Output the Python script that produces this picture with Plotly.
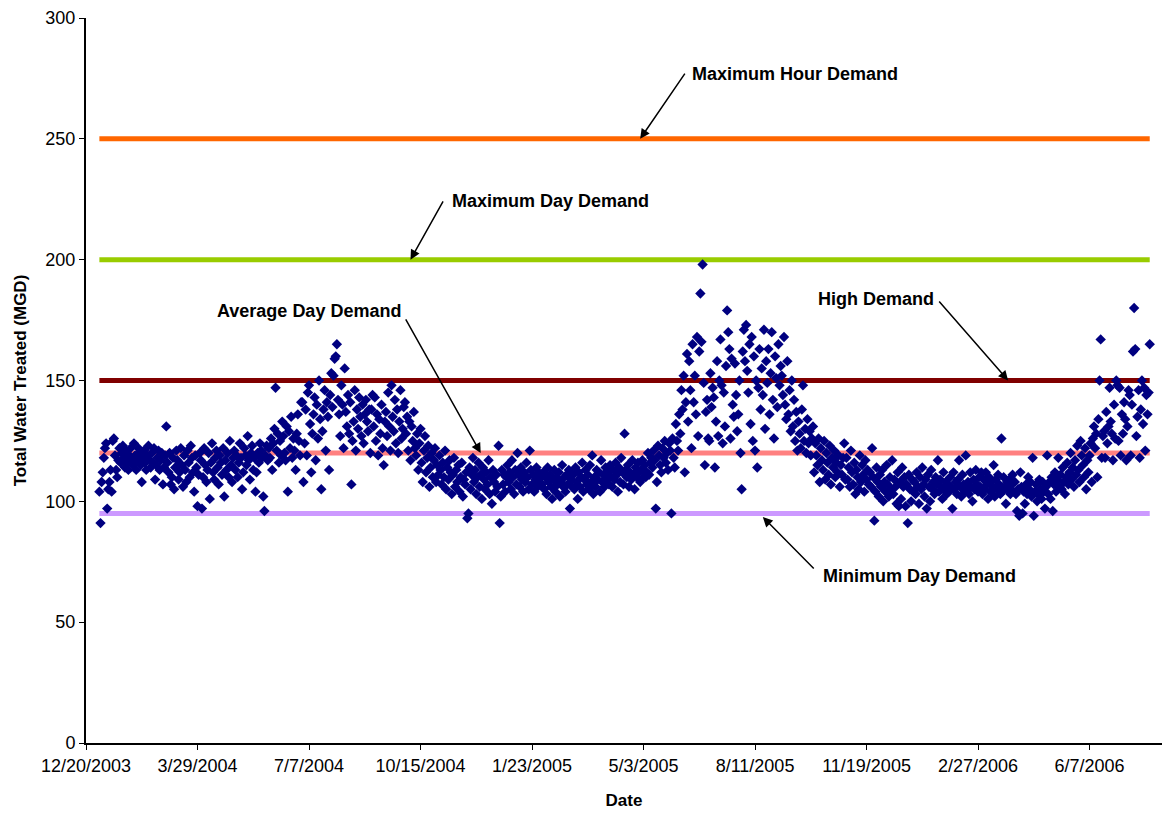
import pandas as pd
import plotly.graph_objects as go

# Daily total water treated (MGD), one inner list per calendar month
treated_2004 = [
    [104, 91, 108, 112, 118, 122, 124, 97, 105, 108, 113, 104, 125, 126, 119, 113, 110, 117, 122, 116,
     120, 123, 118, 114, 121, 116, 113, 119, 122, 117, 115],
    [124, 119, 113, 117, 122, 120, 115, 108, 118, 121, 116, 113, 119, 123, 117, 114, 120, 116, 122, 109,
     115, 118, 121, 113, 117, 120, 107, 114, 119],
    [131, 116, 112, 120, 107, 110, 118, 105, 114, 121, 117, 109, 112, 122, 115, 106, 119, 113, 108, 121,
     116, 110, 123, 118, 112, 104, 119, 114, 98, 111, 120],
    [117, 97, 110, 122, 115, 108, 113, 120, 101, 116, 124, 112, 109, 118, 121, 114, 107, 119, 116, 111,
     122, 102, 117, 113, 120, 110, 125, 115, 108, 118],
    [121, 113, 119, 110, 116, 124, 118, 105, 112, 122, 119, 115, 127, 117, 109, 120, 123, 113, 118, 104,
     112, 120, 116, 124, 121, 118, 102, 96, 119, 123, 117],
    [122, 118, 126, 113, 124, 130, 147, 121, 128, 116, 125, 119, 133, 127, 120, 117, 131, 104, 129, 122,
     135, 118, 126, 121, 113, 128, 136, 125, 119, 141],
    [141, 108, 124, 138, 119, 145, 148, 132, 112, 128, 136, 143, 117, 140, 126, 150, 134, 105, 129, 138,
     146, 121, 141, 135, 113, 144, 153, 139, 152, 159, 160],
    [165, 142, 136, 127, 148, 140, 122, 155, 137, 131, 144, 128, 141, 107, 125, 133, 146, 121, 138, 130,
     143, 135, 127, 140, 124, 136, 142, 133, 129, 138, 120],
    [138, 144, 131, 143, 125, 136, 119, 134, 128, 140, 122, 115, 133, 137, 127, 145, 131, 121, 148, 135,
     129, 142, 124, 138, 120, 133, 146, 126, 130, 139],
    [141, 128, 135, 121, 133, 117, 131, 125, 137, 122, 119, 128, 113, 124, 130, 116, 108, 121, 127, 112,
     118, 123, 106, 114, 120, 110, 117, 122, 108, 115, 111],
    [119, 113, 107, 116, 110, 121, 105, 114, 109, 117, 112, 103, 111, 118, 106, 113, 108, 115, 104, 110,
     116, 102, 109, 107, 112, 93, 95, 114, 105, 111],
    [118, 108, 113, 103, 110, 116, 106, 111, 101, 114, 109, 105, 112, 107, 117, 103, 110, 99, 113, 108,
     104, 111, 106, 123, 91, 102, 113, 107, 111, 104, 110],
]

treated_2005 = [
    [115, 108, 112, 105, 117, 110, 103, 113, 107, 120, 111, 106, 114, 109, 104, 112, 108, 116, 110, 105,
     121, 113, 107, 111, 104, 109, 114, 106, 112, 108, 110],
    [107, 112, 105, 110, 103, 114, 108, 111, 106, 101, 109, 113, 104, 110, 107, 112, 102, 108, 115, 106,
     110, 104, 111, 107, 113, 97, 109, 106],
    [111, 105, 114, 108, 101, 112, 106, 110, 116, 104, 109, 113, 107, 111, 105, 115, 108, 119, 103, 110,
     106, 113, 109, 112, 104, 117, 108, 111, 106, 114, 109],
    [112, 107, 115, 110, 106, 113, 109, 116, 111, 104, 114, 108, 118, 112, 107, 128, 113, 110, 115, 106,
     112, 109, 117, 111, 105, 114, 110, 116, 112, 108],
    [113, 117, 110, 115, 110, 112, 120, 111, 116, 118, 114, 121, 117, 97, 108, 123, 119, 115, 112, 122,
     118, 125, 116, 120, 113, 124, 121, 95, 126, 118, 114],
    [132, 125, 121, 136, 128, 146, 138, 152, 112, 141, 161, 133, 158, 146, 122, 165, 141, 152, 136, 168,
     127, 162, 186, 166, 198, 149, 115, 137, 142, 126],
    [125, 153, 139, 147, 143, 114, 133, 158, 127, 150, 167, 148, 124, 145, 131, 156, 179, 170, 163, 126,
     159, 140, 135, 157, 144, 129, 136, 150, 120, 105, 162],
    [171, 158, 173, 154, 145, 165, 132, 168, 125, 160, 121, 150, 114, 147, 163, 138, 155, 144, 171, 130,
     158, 149, 163, 136, 153, 170, 142, 126, 160, 151, 139],
    [165, 148, 156, 152, 144, 168, 140, 134, 158, 136, 146, 129, 150, 131, 142, 125, 137, 121, 133, 128,
     122, 138, 148, 125, 130, 120, 134, 124, 129, 119],
    [126, 131, 112, 124, 119, 115, 126, 108, 122, 117, 113, 125, 109, 120, 116, 111, 123, 107, 118, 114,
     121, 110, 116, 112, 119, 106, 115, 111, 118, 124, 109],
    [118, 109, 114, 106, 121, 112, 107, 116, 103, 113, 110, 105, 119, 108, 115, 111, 104, 117, 109, 113,
     107, 112, 106, 122, 110, 92, 104, 114, 108, 102],
    [111, 106, 113, 100, 108, 104, 115, 107, 102, 110, 105, 117, 103, 109, 106, 99, 112, 98, 108, 101,
     114, 106, 110, 98, 107, 91, 111, 105, 100, 109, 104],
]

treated_2006 = [
    [108, 103, 112, 106, 99, 110, 105, 114, 107, 102, 109, 97, 111, 106, 100, 113, 105, 108, 103, 110,
     107, 117, 104, 109, 106, 101, 112, 105, 108, 103, 107],
    [104, 110, 106, 97, 112, 105, 108, 103, 109, 117, 106, 102, 111, 107, 104, 119, 105, 108, 103, 112,
     106, 100, 109, 105, 113, 107, 104, 110],
    [106, 112, 103, 109, 105, 112, 107, 101, 110, 104, 108, 106, 115, 102, 109, 105, 111, 107, 103, 126,
     104, 110, 106, 99, 108, 105, 109, 103, 107, 111, 104],
    [108, 103, 96, 105, 94, 112, 106, 95, 104, 99, 107, 103, 110, 105, 108, 102, 118, 94, 104, 107,
     100, 103, 109, 105, 101, 108, 104, 97, 106, 119],
    [103, 108, 101, 110, 96, 107, 112, 104, 109, 118, 106, 111, 105, 114, 108, 103, 110, 116, 107, 112,
     120, 109, 114, 106, 117, 111, 123, 113, 108, 125, 119],
    [115, 110, 122, 105, 117, 112, 119, 124, 108, 126, 131, 122, 128, 110, 134, 150, 167, 118, 127, 129,
     118, 137, 124, 131, 147, 133, 128, 117, 140, 126],
    [150, 148, 125, 147, 119, 136, 128, 141, 134, 117, 131, 146, 144, 119, 140, 162, 180, 163, 127, 135,
     146, 118, 138, 150, 132, 147, 121, 144, 136, 145, 165],
]

# Planning demand levels (MGD)
demand_names = ["Maximum Hour Demand", "Maximum Day Demand", "High Demand",
                "Average Day Demand", "Minimum Day Demand"]
demand_levels = [250, 200, 150, 120, 95]
demand_colors = ["#FF6600", "#99CC00", "#800000", "#FF8080", "#CC99FF"]

tick_dates = ["2003-12-20", "2004-03-29", "2004-07-07", "2004-10-15", "2005-01-23",
              "2005-05-03", "2005-08-11", "2005-11-19", "2006-02-27", "2006-06-07"]
tick_labels = ["12/20/2003", "3/29/2004", "7/7/2004", "10/15/2004", "1/23/2005",
               "5/3/2005", "8/11/2005", "11/19/2005", "2/27/2006", "6/7/2006"]

dates, values = [], []
for year, months in ((2004, treated_2004), (2005, treated_2005), (2006, treated_2006)):
    for m, vals in enumerate(months):
        days = pd.date_range(f"{year}-{m + 1:02d}-01", periods=len(vals), freq="D")
        dates.extend(days)
        values.extend(vals)

first_day, last_day = dates[0], dates[-1]

FONT = "Liberation Sans, Arial, sans-serif"

fig = go.Figure()

for name, level, color in zip(demand_names, demand_levels, demand_colors):
    fig.add_trace(go.Scatter(
        x=[first_day, last_day], y=[level, level], mode="lines", name=name,
        line=dict(color=color, width=5), hoverinfo="skip"))

fig.add_trace(go.Scatter(
    x=dates, y=values, mode="markers", name="Total Water Treated",
    marker=dict(symbol="diamond", size=8, color="#000080", line=dict(width=0))))

# Labels and arrows for the demand lines
labels = [
    ("Maximum Hour Demand", "2005-06-14", 276.8, "2005-06-10", 277.6, "2005-04-30", 250),
    ("Maximum Day Demand", "2004-11-10", 224.3, "2004-11-05", 224.7, "2004-10-06", 200),
    ("Average Day Demand", "2004-04-14", 178.8, "2004-10-01", 175.9, "2004-12-08", 120),
    ("High Demand", "2005-10-05", 183.7, "2006-01-22", 183.3, "2006-03-26", 150),
    ("Minimum Day Demand", "2005-10-09", 69.1, "2005-10-04", 71.6, "2005-08-18", 93.5),
]
annotations = []
for text, tx, ty, ax, ay, hx, hy in labels:
    annotations.append(dict(
        x=tx, y=ty, xref="x", yref="y", text=f"<b>{text}</b>", showarrow=False,
        xanchor="left", yanchor="middle", font=dict(family=FONT, size=18, color="black")))
    annotations.append(dict(
        x=hx, y=hy, ax=ax, ay=ay, xref="x", yref="y", axref="x", ayref="y", text="",
        showarrow=True, arrowhead=2, arrowsize=1.3, arrowwidth=1.5, arrowcolor="black",
        standoff=0, startstandoff=0))

fig.update_layout(
    width=1165, height=813,
    margin=dict(l=86, r=3, t=18, b=70),
    paper_bgcolor="white", plot_bgcolor="white",
    showlegend=False,
    font=dict(family=FONT, size=18, color="black"),
    annotations=annotations,
)
fig.update_xaxes(
    type="date", range=["2003-12-20", "2006-08-11"],
    tickvals=tick_dates, ticktext=tick_labels,
    ticks="outside", ticklen=5, tickwidth=1, tickcolor="black",
    showline=True, linecolor="black", linewidth=2, showgrid=False, zeroline=False,
    tickfont=dict(family=FONT, size=18, color="black"),
    title=dict(text="<b>Date</b>", font=dict(family=FONT, size=17, color="black"), standoff=20),
    automargin=False,
)
fig.update_yaxes(
    range=[0, 300], tickvals=[0, 50, 100, 150, 200, 250, 300],
    ticks="outside", ticklen=5, tickwidth=1, tickcolor="black",
    showline=True, linecolor="black", linewidth=2, showgrid=False, zeroline=False,
    tickfont=dict(family=FONT, size=18, color="black"),
    title=dict(text="<b>Total Water Treated (MGD)</b>", font=dict(family=FONT, size=17, color="black"),
               standoff=14),
    automargin=False,
)

fig.write_html("out.html")
